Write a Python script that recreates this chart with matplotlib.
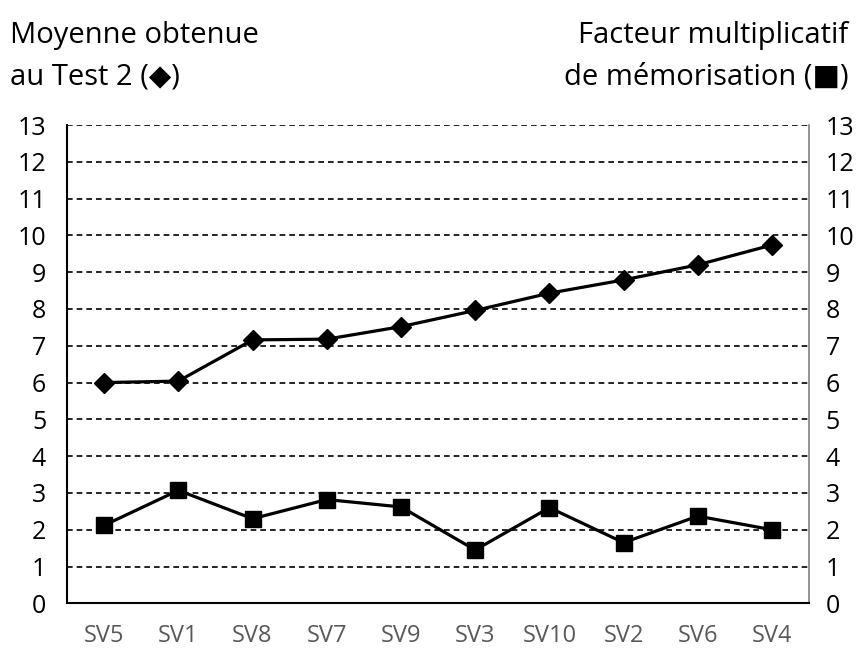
import numpy as np
import matplotlib.pyplot as plt

plt.rcParams['font.family'] = ['Open Sans', 'DejaVu Sans']

etiquettes = ["SV5", "SV1", "SV8", "SV7", "SV9", "SV3", "SV10", "SV2", "SV6", "SV4"]
moyenne_test2 = [6.0, 6.04, 7.16, 7.18, 7.52, 7.96, 8.43, 8.79, 9.2, 9.74]
facteur_memo = [2.12, 3.07, 2.3, 2.82, 2.62, 1.45, 2.6, 1.65, 2.37, 2.0]

x = np.arange(len(etiquettes))

fig = plt.figure(figsize=(8.57, 6.57), dpi=100)
ax = fig.add_axes([0.0782, 0.0817, 0.866, 0.728])

ax.plot(x, moyenne_test2, color="black", lw=2.3, marker="D", ms=10, zorder=3)
ax.plot(x, facteur_memo, color="black", lw=2.3, marker="s", ms=11, zorder=3)

ax.set_xlim(-0.5, len(etiquettes) - 0.5)
ax.set_ylim(0, 13)
ax.set_yticks(range(0, 14))
for v in range(1, 14):
    ax.axhline(v, color="black", lw=1.2, ls=(0, (3.4, 2.4)), zorder=1)

ax.set_xticks(x)
ax.set_xticklabels(etiquettes, color="#595959", fontsize=17)
ax.tick_params(axis="x", length=0, pad=15)
ax.tick_params(axis="y", length=0, labelsize=18, pad=15)

ax.spines["top"].set_visible(False)
ax.spines["left"].set_linewidth(1.5)
ax.spines["bottom"].set_linewidth(1.5)
ax.spines["right"].set_color("#808080")
ax.spines["right"].set_linewidth(1.2)

# graduation de droite
ax2 = ax.twinx()
ax2.set_ylim(0, 13)
ax2.set_yticks(range(0, 14))
ax2.tick_params(axis="y", length=0, labelsize=18, pad=12)
for s in ax2.spines.values():
    s.set_visible(False)

fig.text(0.012, 0.9346, "Moyenne obtenue", fontsize=21, va="baseline")
fig.text(0.012, 0.872, "au Test 2 (\u25c6)", fontsize=21, va="baseline")
fig.text(0.99, 0.9346, "Facteur multiplicatif", fontsize=21, ha="right", va="baseline")
fig.text(0.99, 0.872, "de mémorisation (\u25a0)", fontsize=21, ha="right", va="baseline")

plt.savefig("out.png", dpi=100)
